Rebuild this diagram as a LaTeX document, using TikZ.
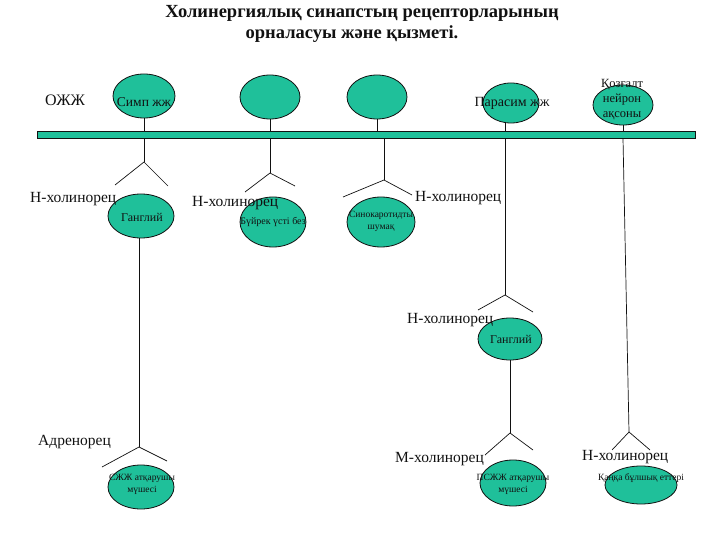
\documentclass[tikz,border=0pt]{standalone}
\usepackage{fontspec}
\setmainfont{Liberation Serif}
\usepackage{tikz}
\usetikzlibrary{positioning,shapes.geometric}
\definecolor{syn}{HTML}{1FC09A}
\definecolor{ink}{HTML}{111111}
\tikzset{
  cell/.style={ellipse,draw=ink,fill=syn,line width=0.8pt,inner sep=0pt},
  celltext/.style={font=\fontsize{9.5}{12}\selectfont,align=center,inner sep=0pt,text=ink},
  toptext/.style={font=\fontsize{13.5}{15}\selectfont,align=center,inner sep=0pt,text=ink},
  rec/.style={font=\fontsize{15.5}{18}\selectfont,inner sep=0pt,anchor=west,text=ink},
  headline/.style={font=\fontsize{18.5}{21}\selectfont\bfseries,inner sep=0pt,text=ink},
  wire/.style={draw=ink,line width=0.7pt},
  busbar/.style={draw=ink,fill=syn,line width=0.9pt,inner sep=0pt,minimum width=658pt,minimum height=7pt},
}
\begin{document}
\begin{tikzpicture}[x=1pt,y=-1pt]
\useasboundingbox (0,0) rectangle (720,540);
% title
\node[headline] (head1) at (362,13) {Холинергиялық синапстың рецепторларының};
\node[headline] (head2) at (352,34) {орналасуы және қызметі.};
\node[rec,font=\fontsize{16}{18}\selectfont] (ozhzh) at (45,100) {ОЖЖ};
% bar
\node[busbar] (bar) at (366,134.5) {};
% top cells
\node[cell,minimum width=62pt,minimum height=44pt] (simp) at (144,96) {};
\node[cell,minimum width=60pt,minimum height=44pt] (blank1) at (270,97) {};
\node[cell,minimum width=60pt,minimum height=44pt] (blank2) at (377,97) {};
\node[cell,minimum width=56pt,minimum height=40pt] (paras) at (511,103) {};
\node[cell,minimum width=60pt,minimum height=40pt] (motor) at (623,105) {};
\node[toptext] (simp-t) at (144,102) {Симп жж};
\node[toptext,font=\fontsize{14}{15}\selectfont] (paras-t) at (512,103) {Парасим жж};
\node[toptext,font=\fontsize{12.5}{15}\selectfont] (motor-t) at (622,100) {Қозғалт\\нейрон\\ақсоны};
% forks
\foreach \n/\ax/\ay/\lx/\ly/\rx/\ry in {fa/144/162/115/185/168/186, fb/270/173/245/192/295/186,
    fc/384/180/343/197/412/195, fd/505/295/478/310/533/312, fe/139/447/102/467/167/461,
    ff/510/433/485/455/533/450, fg/629/432/612/450/650/450}{
  \coordinate (\n) at (\ax,\ay);
  \coordinate (\n-l) at (\lx,\ly);
  \coordinate (\n-r) at (\rx,\ry);
  \draw[wire] (\n-l) -- (\n) -- (\n-r);
}
% lower cells
\node[cell,minimum width=66pt,minimum height=44pt] (gang1) at (141,216) {};
\node[cell,minimum width=66pt,minimum height=50pt] (kidney) at (273,222) {};
\node[cell,minimum width=68pt,minimum height=50pt] (sino) at (381,222) {};
\node[cell,minimum width=64pt,minimum height=42pt] (gang2) at (510,339) {};
\node[cell,minimum width=66pt,minimum height=44pt] (sympeff) at (141,487) {};
\node[cell,minimum width=66pt,minimum height=46pt] (paraeff) at (513,483) {};
\node[cell,minimum width=72pt,minimum height=38pt] (muscle) at (641,485) {};
\node[celltext,font=\fontsize{12}{12}\selectfont] (gang1-t) at (142,217) {Ганглий};
\node[celltext,font=\fontsize{10}{12}\selectfont] (kidney-t) at (273,222) {Бүйрек үсті без};
\node[celltext] (sino-t) at (381,221) {Синокаротидты\\шумақ};
\node[celltext,font=\fontsize{12}{12}\selectfont] (gang2-t) at (511,339) {Ганглий};
\node[celltext] (sympeff-t) at (142,484) {СЖЖ атқарушы\\мүшесі};
\node[celltext] (paraeff-t) at (513,484) {ПСЖЖ атқарушы\\мүшесі};
\node[celltext] (muscle-t) at (641,478) {Қаңқа бұлшық еттері};
% connectors
\draw[wire] (simp.south) -- (simp.south |- bar.north);
\draw[wire] (blank1.south) -- (blank1.south |- bar.north);
\draw[wire] (blank2.south) -- (blank2.south |- bar.north);
\draw[wire] (fd |- paras.south) -- (fd |- bar.north);
\draw[wire] (motor.south) -- (motor.south |- bar.north);
\draw[wire] (fa |- bar.south) -- (fa);
\draw[wire] (fb |- bar.south) -- (fb);
\draw[wire] (fc |- bar.south) -- (fc);
\draw[wire] (fd |- bar.south) -- (fd);
\draw[wire] (motor |- bar.south) -- (fg);
\draw[wire] (fe |- gang1.south) -- (fe);
\draw[wire] (ff |- gang2.south) -- (ff);
% receptors
\node[rec] (nh1) at (30,199) {Н-холинорец};
\node[rec] (nh2) at (192,203) {Н-холинорец};
\node[rec] (nh3) at (415,198) {Н-холинорец};
\node[rec] (nh4) at (407,320) {Н-холинорец};
\node[rec] (adr) at (38,442) {Адренорец};
\node[rec] (mh) at (395,459) {М-холинорец};
\node[rec] (nh5) at (582,457) {Н-холинорец};
\end{tikzpicture}
\end{document}
